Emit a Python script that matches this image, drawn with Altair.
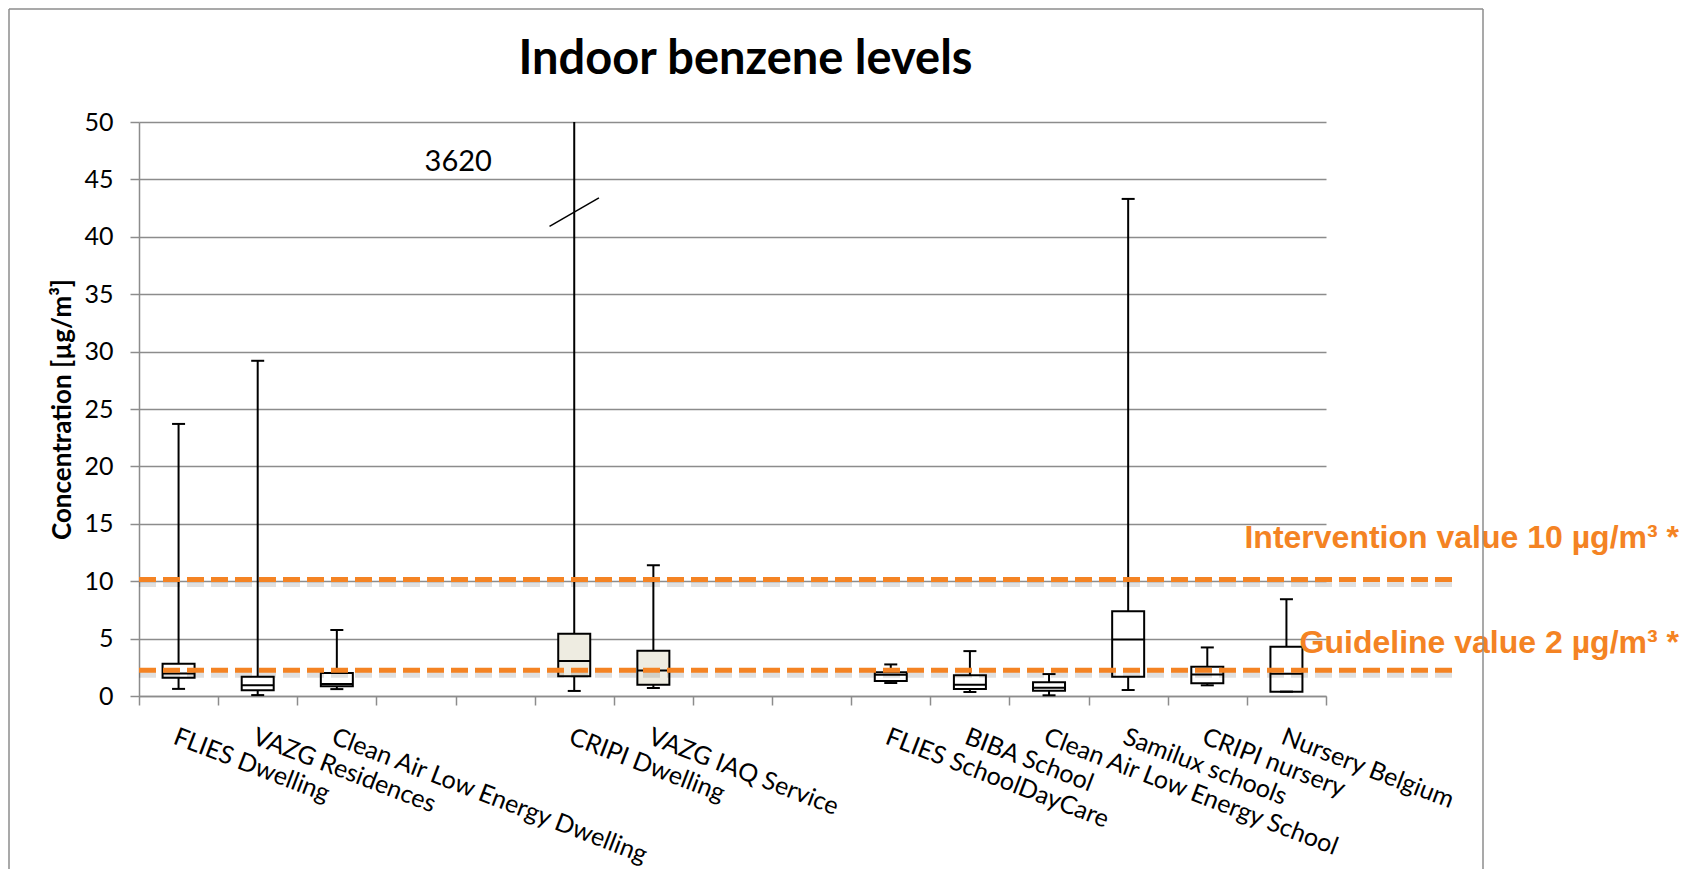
import altair as alt
import pandas as pd

# ---- data ----
slots = ["FLIES Dwelling", "VAZG Residences", "Clean Air Low Energy Dwelling", "gap1", "gap2",
         "CRIPI Dwelling", "VAZG IAQ Service", "gap3", "gap4",
         "FLIES SchoolDayCare", "BIBA School", "Clean Air Low Energy School",
         "Samilux schools", "CRIPI nursery", "Nursery Belgium"]
categories = [s for s in slots if not s.startswith("gap")]
mins    = [0.62, 0.08, 0.60, 0.44, 0.70, 1.13, 0.35, 0.06, 0.52, 0.93, 0.38]
q1s     = [1.60, 0.50, 0.84, 1.72, 0.99, 1.30, 0.61, 0.46, 1.68, 1.10, 0.38]
medians = [1.95, 0.93, 1.05, 3.05, 2.22, 1.85, 0.99, 0.72, 4.93, 1.88, 1.94]
q3s     = [2.82, 1.68, 2.00, 5.42, 3.94, 2.06, 1.80, 1.19, 7.39, 2.55, 4.29]
maxs    = [23.7, 29.2, 5.75, 3620, 11.4, 2.75, 3.91, 1.91, 43.3, 4.23, 8.43]
shaded = ["CRIPI Dwelling", "VAZG IAQ Service"]

chart_title = "Indoor benzene levels"
y_title = "Concentration [µg/m³]"
y_top = 50
break_at = 42.15
offscale_label_y = 46.5

limit_values = [10.15, 2.25]
limit_labels = ["Intervention value 10 µg/m³ *", "Guideline value 2 µg/m³ *"]
limit_label_y = [12.9, 3.75]

ORANGE = "#F48323"
GRID = "#8C8C8C"
W, H = 1187, 574

df = pd.DataFrame({"cat": categories, "min": mins, "q1": q1s, "med": medians,
                   "q3": q3s, "max": maxs})
df["top"] = df["max"].clip(upper=y_top)
df["fill"] = ["#EEECE1" if c in shaded else "white" for c in categories]

lim = pd.DataFrame({"v": limit_values, "label": limit_labels, "ly": limit_label_y})
lim["shadow"] = lim["v"] - 4.5 * y_top / H

ysc = alt.Scale(domain=[0, y_top], nice=False, zero=True)
xsc = alt.Scale(domain=slots, paddingInner=0, paddingOuter=0)

xaxis = alt.Axis(tickBand="extent", labelAngle=21, labelAlign="left", labelBaseline="top",
                 labelPadding=19, tickSize=9, labelFont="Lato", labelFontSize=25,
                 labelColor="black", domainColor=GRID, tickColor=GRID, domainWidth=1.5,
                 tickWidth=1.5, grid=False, labelLimit=600, labelOverlap=False,
                 title=None,
                 labelExpr="indexof(datum.label, 'gap') == 0 ? '' : datum.label")
yaxis = alt.Axis(values=list(range(0, 55, 5)), labelFont="Lato", labelFontSize=25,
                 labelColor="black", labelPadding=17, tickSize=9, tickColor=GRID,
                 tickWidth=1.5, domainColor=GRID, domainWidth=1.5, gridColor=GRID,
                 gridWidth=1.5, title=y_title, titleFont="Lato",
                 titleFontSize=26, titleFontWeight="bold", titleColor="black",
                 titleX=-77, titleY=H / 2, titleBaseline="middle", titleAlign="center")


def X():
    return alt.X("cat:N", scale=xsc, axis=xaxis)


def Y(field):
    return alt.Y(field, scale=ysc, axis=yaxis)


base = alt.Chart(df)

whiskers = base.mark_rule(color="black", strokeWidth=2).encode(
    x=X(), y=Y("min:Q"), y2="top:Q")
boxes = base.mark_bar(size=32, stroke="black", strokeWidth=2).encode(
    x=X(), y=Y("q1:Q"), y2="q3:Q", fill=alt.Fill("fill:N", scale=None))
med = base.mark_tick(orient="horizontal", size=32, thickness=2, color="black", opacity=1).encode(
    x=X(), y=Y("med:Q"))
cap_lo = base.mark_tick(orient="horizontal", size=13, thickness=2, color="black", opacity=1).encode(
    x=X(), y=Y("min:Q"))
cap_hi = base.transform_filter(f"datum.max <= {y_top}").mark_tick(
    orient="horizontal", size=13, thickness=2, color="black", opacity=1).encode(
    x=X(), y=Y("max:Q"))
brk = base.transform_filter(f"datum.max > {y_top}").transform_calculate(
    brk=str(break_at)).mark_point(shape="M-1,0.575L1,-0.575", size=2440, filled=False,
                                  stroke="black", strokeWidth=1.5, opacity=1).encode(
    x=X(), y=Y("brk:Q"))
offlabel = base.transform_filter(f"datum.max > {y_top}").transform_calculate(
    ly=str(offscale_label_y)).mark_text(dx=-116, font="Lato", fontSize=29, color="black",
                                        baseline="middle").encode(
    x=X(), y=Y("ly:Q"), text=alt.Text("max:Q", format="d"))

limbase = alt.Chart(lim)
shadow = limbase.mark_rule(strokeDash=[17, 7], strokeWidth=6, color="black", opacity=0.12).encode(
    x=alt.value(0), x2=alt.value(1314), y=Y("shadow:Q"))
limline = limbase.mark_rule(strokeDash=[17, 7], strokeWidth=5, color=ORANGE).encode(
    x=alt.value(0), x2=alt.value(1314), y=Y("v:Q"))
limtext = limbase.mark_text(align="right", baseline="alphabetic", font="Liberation Sans",
                            fontWeight="bold", fontSize=32, color=ORANGE).encode(
    x=alt.value(1540), y=Y("ly:Q"), text="label:N")

title_mark = alt.Chart(pd.DataFrame({"t": [chart_title]})).mark_text(
    font="Lato", fontSize=47, fontWeight="bold", color="black", align="center",
    baseline="alphabetic").encode(x=alt.value(W / 2 + 13), y=alt.value(-48), text="t:N")

frame_l = alt.Chart().mark_rule(color=GRID, strokeWidth=1.5).encode(
    x=alt.value(-130), y=alt.value(-113), y2=alt.value(800))
frame_t = alt.Chart().mark_rule(color=GRID, strokeWidth=1.5).encode(
    x=alt.value(-130), x2=alt.value(1344), y=alt.value(-113))
frame_r = alt.Chart().mark_rule(color=GRID, strokeWidth=1.5).encode(
    x=alt.value(1344), y=alt.value(-113), y2=alt.value(800))

chart = alt.layer(
    whiskers, boxes, med, cap_lo, cap_hi, brk, offlabel, shadow, limline, limtext,
    title_mark, frame_l, frame_t, frame_r
).properties(
    width=W, height=H,
    autosize=alt.AutoSizeParams(type="none"),
    padding={"left": 131, "top": 114, "right": 359, "bottom": 173},
).configure_view(stroke="transparent")

chart.save("out.html", embed_options={"renderer": "svg", "actions": False})
